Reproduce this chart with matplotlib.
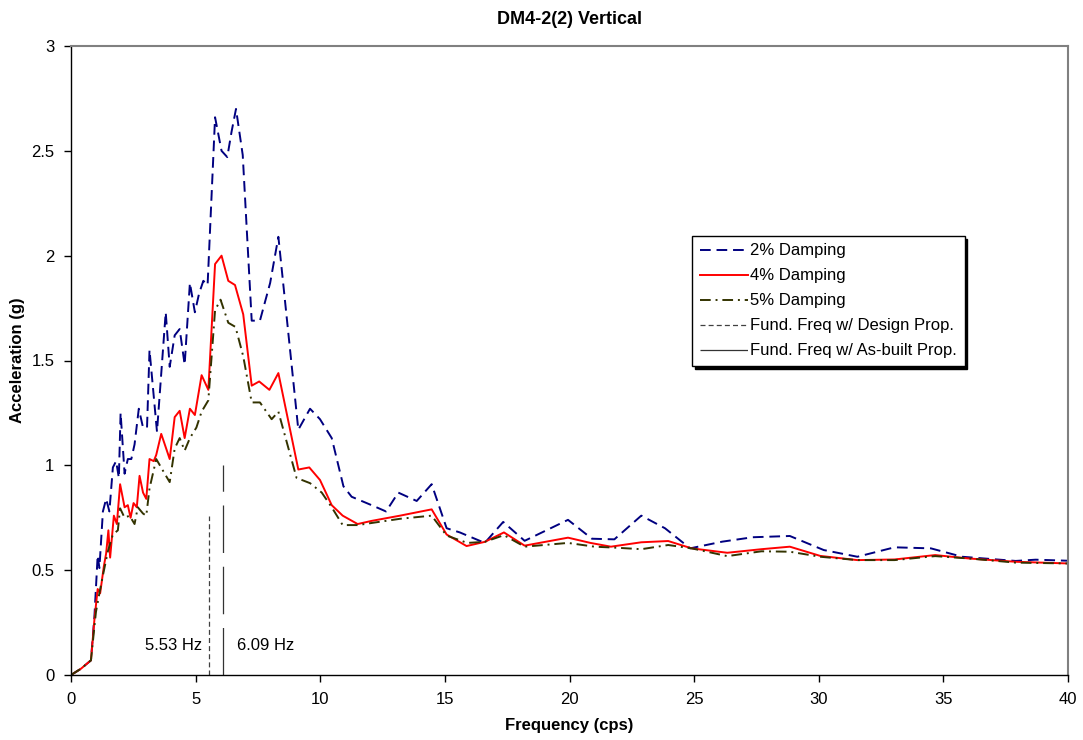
import numpy as np
import matplotlib
matplotlib.use('Agg')
import matplotlib.pyplot as plt

plt.rcParams['font.family'] = ['Liberation Sans', 'DejaVu Sans']
plt.rcParams['font.size'] = 12

# spectral acceleration (frequency in cps, acceleration in g)
f2 = [0, 0.4, 0.8, 0.94, 1.07, 1.14, 1.28, 1.41, 1.54, 1.68, 1.81, 1.92, 1.99, 2.15,
      2.28, 2.42, 2.55, 2.72, 2.89, 3.05, 3.15, 3.45, 3.8, 3.96, 4.16, 4.36, 4.56, 4.77,
      4.97, 5.14, 5.31, 5.48, 5.78, 6.04, 6.27, 6.44, 6.62, 6.89, 7.25, 7.58, 7.99, 8.32,
      9.12, 9.59, 9.99, 10.46, 10.93, 11.26, 12.06, 12.64, 13.13, 13.87, 14.47, 15.07,
      15.6, 16.6, 17.34, 18.2, 19.94, 20.9, 21.8, 22.88, 23.83, 24.84, 26.13, 27.35,
      28.84, 30.2, 31.55, 33.04, 34.5, 35.75, 37.9, 38.7, 40]
acc2 = [0, 0.03, 0.07, 0.28, 0.57, 0.51, 0.78, 0.84, 0.78, 0.99, 1.02, 0.94, 1.25, 0.96,
        1.03, 1.03, 1.10, 1.27, 1.18, 1.18, 1.55, 1.16, 1.73, 1.47, 1.62, 1.65, 1.48, 1.87,
        1.73, 1.82, 1.88, 1.86, 2.66, 2.50, 2.47, 2.59, 2.70, 2.48, 1.69, 1.69, 1.87, 2.09,
        1.17, 1.27, 1.22, 1.13, 0.90, 0.85, 0.81, 0.78, 0.87, 0.83, 0.91, 0.70,
        0.68, 0.63, 0.73, 0.64, 0.74, 0.65, 0.647, 0.76, 0.70, 0.604, 0.636, 0.657,
        0.663, 0.596, 0.564, 0.609, 0.604, 0.564, 0.544, 0.55, 0.545]

f4 = [0, 0.4, 0.8, 0.94, 1.07, 1.17, 1.32, 1.41, 1.5, 1.57, 1.72, 1.84, 1.97, 2.15,
      2.28, 2.39, 2.51, 2.64, 2.75, 2.89, 3.02, 3.15, 3.32, 3.42, 3.62, 3.96, 4.16, 4.36,
      4.56, 4.77, 4.97, 5.24, 5.51, 5.78, 6.04, 6.31, 6.58, 6.91, 7.25, 7.55, 7.96, 8.32,
      9.12, 9.56, 9.99, 10.46, 10.9, 11.5, 12.06, 13.2, 14.47, 15.07, 15.87, 16.6, 17.37,
      18.2, 19.94, 20.84, 21.66, 22.88, 23.96, 24.9, 26.33, 27.7, 28.84, 30.06, 31.55,
      33.04, 34.67, 36.0, 37.9, 40]
acc4 = [0, 0.03, 0.07, 0.265, 0.41, 0.39, 0.52, 0.58, 0.69, 0.56, 0.76, 0.72, 0.91, 0.80,
        0.81, 0.75, 0.82, 0.80, 0.95, 0.87, 0.84, 1.03, 1.02, 1.05, 1.15, 1.03, 1.23, 1.26,
        1.13, 1.27, 1.24, 1.43, 1.36, 1.96, 2.0, 1.88, 1.86, 1.72, 1.38, 1.40, 1.36, 1.44,
        0.98, 0.99, 0.93, 0.81, 0.76, 0.72, 0.735, 0.76, 0.79, 0.67, 0.615, 0.635, 0.68,
        0.617, 0.655, 0.63, 0.612, 0.633, 0.639, 0.604, 0.583, 0.60, 0.612, 0.568, 0.548,
        0.551, 0.572, 0.556, 0.540, 0.532]

f5 = [0, 0.4, 0.8, 1.0, 1.14, 1.28, 1.48, 1.68, 1.88, 1.97, 2.15, 2.35, 2.55, 2.68,
      2.89, 3.02, 3.15, 3.42, 3.76, 3.96, 4.16, 4.36, 4.56, 4.77, 5.03, 5.24, 5.51, 5.78,
      6.0, 6.31, 6.6, 6.91, 7.25, 7.58, 8.05, 8.32, 9.05, 9.59, 10.06, 10.46, 10.9, 11.5,
      12.06, 13.2, 14.47, 15.07, 15.9, 16.6, 17.37, 18.2, 19.94, 21.0, 21.9, 22.88, 23.96,
      24.9, 26.33, 27.7, 28.84, 30.06, 31.55, 33.04, 34.67, 36.0, 37.9, 40]
acc5 = [0, 0.03, 0.07, 0.30, 0.39, 0.475, 0.59, 0.67, 0.69, 0.795, 0.75, 0.76, 0.72, 0.80,
        0.77, 0.76, 0.89, 1.03, 0.96, 0.92, 1.08, 1.13, 1.07, 1.13, 1.18, 1.256, 1.31, 1.74,
        1.79, 1.68, 1.66, 1.52, 1.30, 1.30, 1.22, 1.256, 0.94, 0.915, 0.87, 0.80, 0.715, 0.715,
        0.725, 0.745, 0.76, 0.665, 0.63, 0.635, 0.667, 0.612, 0.63, 0.612, 0.607, 0.60, 0.62,
        0.604, 0.567, 0.59, 0.588, 0.564, 0.548, 0.548, 0.567, 0.556, 0.536, 0.532]

# fundamental frequencies
f_design = 5.53
f_design_top = 0.76
f_built = 6.09
f_built_top = 1.0

fig = plt.figure(figsize=(10.83, 7.40), dpi=100)
ax = fig.add_axes([71 / 1083, 1 - 675 / 740, 997 / 1083, 629 / 740])

ax.plot(f2, acc2, color='#000080', lw=1.4, ls=(0, (5.5, 3)), label='2% Damping')
ax.plot(f4, acc4, color='#FF0000', lw=1.4, label='4% Damping')
ax.plot(f5, acc5, color='#333300', lw=1.4, ls=(0, (5.5, 2.5, 1, 2.5)), label='5% Damping')
ax.plot([f_design, f_design], [0, f_design_top], color='#404040', lw=0.9,
        ls=(0, (4, 2.5)), label='Fund. Freq w/ Design Prop.')
ax.plot([f_built, f_built], [0, f_built_top], color='#333333', lw=0.9,
        ls=(0, (38, 11)), label='Fund. Freq w/ As-built Prop.')

ax.text(f_design - 0.27, 0.14, '%.2f Hz' % f_design, ha='right', va='center', fontsize=12)
ax.text(f_built + 0.57, 0.14, '%.2f Hz' % f_built, ha='left', va='center', fontsize=12)

ax.set_xlim(0, 40)
ax.set_ylim(0, 3)
ax.set_xticks(np.arange(0, 41, 5))
ax.set_yticks([0, 0.5, 1, 1.5, 2, 2.5, 3])
ax.set_yticklabels(['0', '0.5', '1', '1.5', '2', '2.5', '3'])
ax.tick_params(direction='out', length=5, width=1, labelsize=12, pad=7)

for s in ['top', 'right']:
    ax.spines[s].set_color('#808080')
    ax.spines[s].set_linewidth(1.5)
for s in ['left', 'bottom']:
    ax.spines[s].set_color('black')
    ax.spines[s].set_linewidth(1)

ax.set_xlabel('Frequency (cps)', fontweight='bold', fontsize=12)
ax.set_ylabel('Acceleration (g)', fontweight='bold', fontsize=12)
ax.xaxis.set_label_coords(0.5, -0.069)
ax.yaxis.set_label_coords(-0.046, 0.5)
ax.set_title('DM4-2(2) Vertical', fontweight='bold', fontsize=13, pad=16)

leg = ax.legend(loc='upper left', bbox_to_anchor=(0.623, 0.698), borderaxespad=0,
                fancybox=False, shadow={'color': 'black', 'alpha': 1}, framealpha=1,
                edgecolor='black', handlelength=2.9, handletextpad=0.15,
                labelspacing=0.6, borderpad=0.45, fontsize=12)
leg.get_frame().set_linewidth(1)

fig.savefig('out.png', dpi=100)
